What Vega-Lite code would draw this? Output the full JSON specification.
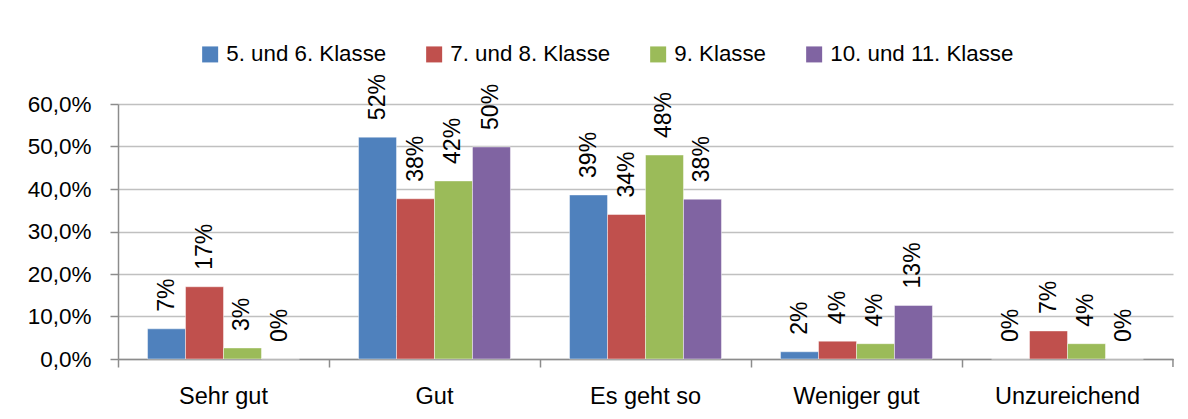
{
  "$schema": "https://vega.github.io/schema/vega-lite/v6.json",
  "width": 1055,
  "height": 255,
  "autosize": {"type": "none"},
  "padding": {"left": 118, "top": 104, "right": 15, "bottom": 60},
  "background": "#ffffff",
  "config": {
    "font": "Liberation Sans",
    "view": {"stroke": null},
    "axis": {"labelFont": "Liberation Sans", "labelColor": "#000000", "title": null}
  },
  "data": {
    "values": [
      {"Kategorie": "Sehr gut", "Klasse": "5. und 6. Klasse", "Anteil": 0.071},
      {"Kategorie": "Sehr gut", "Klasse": "7. und 8. Klasse", "Anteil": 0.170},
      {"Kategorie": "Sehr gut", "Klasse": "9. Klasse", "Anteil": 0.026},
      {"Kategorie": "Sehr gut", "Klasse": "10. und 11. Klasse", "Anteil": 0.0},
      {"Kategorie": "Gut", "Klasse": "5. und 6. Klasse", "Anteil": 0.522},
      {"Kategorie": "Gut", "Klasse": "7. und 8. Klasse", "Anteil": 0.377},
      {"Kategorie": "Gut", "Klasse": "9. Klasse", "Anteil": 0.419},
      {"Kategorie": "Gut", "Klasse": "10. und 11. Klasse", "Anteil": 0.499},
      {"Kategorie": "Es geht so", "Klasse": "5. und 6. Klasse", "Anteil": 0.386},
      {"Kategorie": "Es geht so", "Klasse": "7. und 8. Klasse", "Anteil": 0.340},
      {"Kategorie": "Es geht so", "Klasse": "9. Klasse", "Anteil": 0.480},
      {"Kategorie": "Es geht so", "Klasse": "10. und 11. Klasse", "Anteil": 0.376},
      {"Kategorie": "Weniger gut", "Klasse": "5. und 6. Klasse", "Anteil": 0.017},
      {"Kategorie": "Weniger gut", "Klasse": "7. und 8. Klasse", "Anteil": 0.042},
      {"Kategorie": "Weniger gut", "Klasse": "9. Klasse", "Anteil": 0.036},
      {"Kategorie": "Weniger gut", "Klasse": "10. und 11. Klasse", "Anteil": 0.126},
      {"Kategorie": "Unzureichend", "Klasse": "5. und 6. Klasse", "Anteil": 0.0},
      {"Kategorie": "Unzureichend", "Klasse": "7. und 8. Klasse", "Anteil": 0.066},
      {"Kategorie": "Unzureichend", "Klasse": "9. Klasse", "Anteil": 0.036},
      {"Kategorie": "Unzureichend", "Klasse": "10. und 11. Klasse", "Anteil": 0.0}
    ]
  },
  "encoding": {
    "x": {
      "field": "Kategorie",
      "type": "nominal",
      "sort": ["Sehr gut", "Gut", "Es geht so", "Weniger gut", "Unzureichend"],
      "scale": {"paddingInner": 0.28, "paddingOuter": 0.14},
      "axis": {
        "labelAngle": 0,
        "labelFontSize": 23.5,
        "labelPadding": 17,
        "bandPosition": -0.1944,
        "tickSize": 8,
        "tickColor": "#8c8c8c",
        "domainColor": "#8c8c8c",
        "tickWidth": 1.5,
        "domainWidth": 1.5,
        "grid": false
      }
    },
    "y": {
      "field": "Anteil",
      "type": "quantitative",
      "scale": {"domain": [0, 0.6], "nice": false},
      "axis": {
        "values": [0, 0.1, 0.2, 0.3, 0.4, 0.5, 0.6],
        "labelExpr": "replace(format(datum.value, '.1%'), '.', ',')",
        "labelFontSize": 22.5,
        "labelPadding": 19,
        "tickSize": 8,
        "tickColor": "#8c8c8c",
        "domainColor": "#8c8c8c",
        "tickWidth": 1.5,
        "domainWidth": 1.5,
        "grid": true,
        "gridColor": "#c0c0c0",
        "gridWidth": 1.5
      }
    }
  },
  "layer": [
    {
      "mark": {"type": "bar", "stroke": "#ffffff", "strokeWidth": 0.75, "strokeOpacity": 0.6},
      "encoding": {
        "xOffset": {
          "field": "Klasse",
          "type": "nominal",
          "sort": ["5. und 6. Klasse", "7. und 8. Klasse", "9. Klasse", "10. und 11. Klasse"],
          "scale": {"paddingInner": 0, "paddingOuter": 0}
        },
        "color": {
          "field": "Klasse",
          "type": "nominal",
          "sort": ["5. und 6. Klasse", "7. und 8. Klasse", "9. Klasse", "10. und 11. Klasse"],
          "scale": {
            "domain": ["5. und 6. Klasse", "7. und 8. Klasse", "9. Klasse", "10. und 11. Klasse"],
            "range": ["#4F81BD", "#C0504D", "#9BBB59", "#8064A2"]
          },
          "legend": {
            "title": null,
            "orient": "none",
            "direction": "horizontal",
            "legendX": 81,
            "legendY": -61,
            "symbolType": "square",
            "symbolSize": 256,
            "symbolStrokeWidth": 0,
            "labelFontSize": 22.3,
            "labelColor": "#000000",
            "labelFont": "Liberation Sans",
            "labelOffset": 5,
            "columnPadding": 36,
            "padding": 0,
            "labelLimit": 400
          }
        }
      }
    },
    {
      "mark": {
        "type": "text",
        "angle": 270,
        "align": "left",
        "baseline": "middle",
        "dx": 17,
        "fontSize": 23,
        "color": "#000000",
        "font": "Liberation Sans"
      },
      "encoding": {
        "xOffset": {
          "field": "Klasse",
          "type": "nominal",
          "sort": ["5. und 6. Klasse", "7. und 8. Klasse", "9. Klasse", "10. und 11. Klasse"],
          "scale": {"paddingInner": 0, "paddingOuter": 0}
        },
        "text": {"field": "Anteil", "type": "quantitative", "format": ".0%"}
      }
    },
    {
      "data": {"values": [{"Kategorie": "Unzureichend", "Anteil": 0}]},
      "mark": {"type": "rule", "color": "#8c8c8c", "strokeWidth": 1.5, "y2Offset": 8, "xOffset": 29.5},
      "encoding": {
        "x": {"field": "Kategorie", "type": "nominal", "bandPosition": 1},
        "y": {"field": "Anteil", "type": "quantitative"},
        "y2": {"field": "Anteil"}
      }
    }
  ]
}
